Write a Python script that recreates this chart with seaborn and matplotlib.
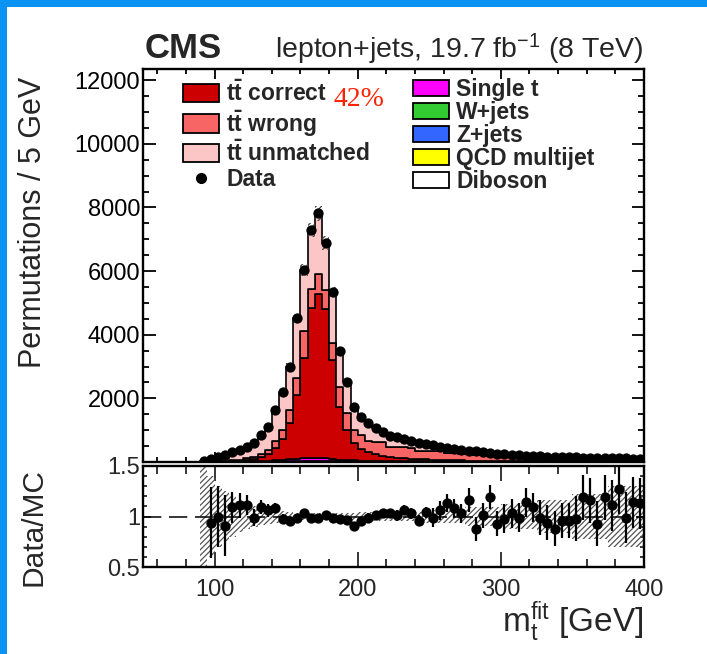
import numpy as np
import pandas as pd
import matplotlib
matplotlib.use("Agg")
import matplotlib.pyplot as plt
import seaborn as sns
from matplotlib.patches import Patch, Rectangle
from matplotlib.lines import Line2D
from matplotlib.ticker import MultipleLocator, FixedLocator

# ---------------- data ----------------
bin_edges = list(range(90, 401, 5))            # 5 GeV bins, 90..400
bin_centers = np.array(bin_edges[:-1]) + 2.5

data_counts = [40, 80, 170, 220, 325, 380, 480, 590, 850, 1110,
               1635, 2210, 3000, 4520, 6040, 7290, 7820, 6880, 5350, 3500,
               2525, 1740, 1425, 1215, 1060, 955, 830, 775, 712, 650,
               600, 560, 520, 480, 445, 410, 380, 355, 330, 300,
               280, 255, 240, 225, 212, 200, 190, 180, 172, 165,
               158, 150, 143, 137, 132, 127, 122, 118, 114, 110,
               107, 104]

tt_correct = [0, 2, 5, 8, 12, 20, 35, 60, 110, 200,
              380, 650, 1150, 2000, 3150, 4700, 5150, 4700, 3100, 1650,
              950, 550, 350, 260, 200, 160, 130, 110, 95, 80,
              70, 60, 52, 45, 40, 35, 31, 28, 25, 22,
              20, 18, 16, 15, 14, 13, 12, 11, 10, 10,
              9, 9, 8, 8, 7, 7, 7, 6, 6, 6,
              5, 5]

tt_wrong = [2, 4, 10, 17, 28, 40, 55, 80, 110, 150,
            220, 300, 400, 550, 850, 600, 625, 600, 550, 635,
            528, 404, 446, 360, 390, 420, 320, 330, 335, 340,
            260, 265, 268, 270, 215, 215, 217, 217, 167, 168,
            168, 168, 134, 133, 132, 131, 108, 107, 106, 104,
            91, 89, 88, 86, 75, 73, 72, 70, 62, 60,
            59, 57]

tt_unmatched = [34, 67, 146, 183, 270, 302, 368, 424, 597, 721,
                985, 1198, 1371, 1867, 1921, 1860, 1915, 1461, 1602, 1141,
                987, 735, 583, 554, 432, 341, 348, 305, 253, 203,
                244, 211, 178, 145, 170, 141, 114, 93, 122, 95,
                78, 55, 77, 64, 53, 45, 59, 51, 45, 41,
                48, 42, 37, 34, 41, 39, 35, 34, 38, 36,
                35, 34]

single_t = [1, 2, 3, 4, 6, 8, 10, 13, 17, 22,
            30, 40, 55, 75, 90, 100, 100, 90, 70, 50,
            38, 30, 26, 23, 21, 19, 17, 16, 15, 14,
            13, 12, 11, 10, 10, 9, 9, 8, 8, 7,
            7, 7, 6, 6, 6, 5, 5, 5, 5, 4,
            4, 4, 4, 4, 3, 3, 3, 3, 3, 3,
            3, 3]

w_jets = [2, 3, 4, 5, 6, 7, 8, 9, 10, 11,
          13, 15, 17, 19, 20, 21, 21, 20, 19, 17,
          15, 14, 13, 12, 11, 10, 10, 9, 9, 8,
          8, 7, 7, 6, 6, 6, 5, 5, 5, 5,
          4, 4, 4, 4, 4, 3, 3, 3, 3, 3,
          3, 3, 3, 2, 2, 2, 2, 2, 2, 2,
          2, 2]

z_jets = [0, 1, 1, 1, 1, 1, 2, 2, 2, 2,
          3, 3, 3, 4, 4, 4, 4, 4, 4, 3,
          3, 3, 3, 2, 2, 2, 2, 2, 2, 2,
          2, 2, 1, 1, 1, 1, 1, 1, 1, 1,
          1, 1, 1, 1, 1, 1, 1, 1, 1, 1,
          1, 1, 1, 1, 1, 1, 1, 1, 1, 1,
          1, 1]

qcd_multijet = [1, 1, 1, 2, 2, 2, 2, 2, 3, 3,
                3, 3, 3, 4, 4, 4, 4, 4, 4, 3,
                3, 3, 3, 3, 3, 2, 2, 2, 2, 2,
                2, 2, 2, 2, 2, 2, 2, 2, 1, 1,
                1, 1, 1, 1, 1, 1, 1, 1, 1, 1,
                1, 1, 1, 1, 1, 1, 1, 1, 1, 1,
                1, 1]

diboson = [0, 0, 0, 0, 0, 0, 0, 0, 1, 1,
           1, 1, 1, 1, 1, 1, 1, 1, 1, 1,
           1, 1, 1, 1, 1, 1, 1, 1, 1, 1,
           1, 1, 1, 1, 1, 1, 1, 1, 1, 1,
           1, 1, 1, 1, 1, 1, 1, 1, 1, 1,
           1, 1, 1, 1, 1, 1, 1, 1, 1, 1,
           1, 1]

ratio_vals = [np.nan, 0.94, 1.00, 0.91, 1.09, 1.11, 1.11, 0.99, 1.09, 1.06,
              1.08, 0.98, 0.96, 0.99, 1.03, 0.99, 0.99, 1.01, 0.99, 0.98,
              0.97, 0.91, 0.96, 0.99, 1.01, 1.03, 1.03, 1.01, 1.06, 1.03,
              0.96, 1.04, 0.99, 1.06, 1.13, 1.08, 1.03, 1.16, 0.88, 1.01,
              1.19, 0.93, 0.98, 1.03, 0.99, 1.14, 1.09, 0.99, 0.94, 0.88,
              0.96, 0.96, 0.98, 1.19, 1.16, 0.93, 1.19, 1.11, 1.27, 0.99,
              1.14, 1.13]

ratio_err = [np.nan, 0.35, 0.30, 0.30, 0.15, 0.12, 0.10, 0.08, 0.07, 0.06,
             0.05, 0.04, 0.03, 0.02, 0.02, 0.02, 0.02, 0.02, 0.02, 0.03,
             0.03, 0.03, 0.04, 0.04, 0.04, 0.04, 0.04, 0.05, 0.05, 0.05,
             0.05, 0.05, 0.09, 0.09, 0.09, 0.09, 0.09, 0.12, 0.12, 0.12,
             0.12, 0.12, 0.14, 0.14, 0.14, 0.14, 0.14, 0.17, 0.17, 0.17,
             0.17, 0.17, 0.22, 0.22, 0.22, 0.22, 0.22, 0.25, 0.25, 0.25,
             0.25, 0.25]

mc_unc_rel = [0.70, 0.40, 0.30, 0.25, 0.20, 0.15, 0.12, 0.10, 0.08, 0.07,
              0.06, 0.05, 0.04, 0.03, 0.03, 0.03, 0.03, 0.03, 0.03, 0.03,
              0.03, 0.03, 0.04, 0.04, 0.04, 0.04, 0.04, 0.04, 0.04, 0.04,
              0.04, 0.06, 0.06, 0.06, 0.06, 0.06, 0.06, 0.09, 0.09, 0.09,
              0.09, 0.09, 0.12, 0.12, 0.12, 0.12, 0.12, 0.16, 0.16, 0.16,
              0.16, 0.16, 0.22, 0.22, 0.22, 0.22, 0.22, 0.30, 0.30, 0.30,
              0.30, 0.30]

components = ["tt unmatched", "tt wrong", "tt correct", "Single t",
              "W+jets", "Z+jets", "QCD multijet", "Diboson"]
component_values = [tt_unmatched, tt_wrong, tt_correct, single_t,
                    w_jets, z_jets, qcd_multijet, diboson]
colors = {"tt correct": "#CC0000", "tt wrong": "#F86565", "tt unmatched": "#FCC6C6",
          "Single t": "#FF00FF", "W+jets": "#33CC33", "Z+jets": "#3366FF",
          "QCD multijet": "#FFFF00", "Diboson": "#FFFFFF"}

# ---------------- style ----------------
sns.set_style("ticks")
plt.rcParams["font.family"] = ["Liberation Sans", "DejaVu Sans"]
plt.rcParams["mathtext.fontset"] = "custom"
plt.rcParams["mathtext.rm"] = "Liberation Sans"
plt.rcParams["mathtext.it"] = "Liberation Sans:italic"
plt.rcParams["mathtext.bf"] = "Liberation Sans:bold"
plt.rcParams["hatch.linewidth"] = 0.9

W, H = 707, 654
fig = plt.figure(figsize=(W / 100, H / 100), dpi=100, facecolor="#0A93F2")
fig.patches.append(Rectangle((7 / W, 0), 1 - 7 / W, (H - 7) / H,
                             transform=fig.transFigure, facecolor="white",
                             edgecolor="none", zorder=-1))

ax = fig.add_axes([143 / W, 1 - 462 / H, 501 / W, 393 / H])
ax2 = fig.add_axes([143 / W, 1 - 567 / H, 501 / W, 101 / H])

# ---------------- top panel: stacked histogram ----------------
df = pd.DataFrame({
    "mass": np.tile(bin_centers, len(components)),
    "count": np.concatenate([np.asarray(v, float) for v in component_values]),
    "component": np.repeat(components, len(bin_centers)),
})
sns.histplot(data=df, x="mass", weights="count", hue="component",
             hue_order=components, bins=bin_edges, multiple="stack",
             element="step", fill=True, palette=colors, alpha=1,
             edgecolor="black", linewidth=1.2, legend=False, ax=ax)

mc_total = np.sum([np.asarray(v, float) for v in component_values], axis=0)
unc = np.asarray(mc_unc_rel)
lo = np.append(mc_total * (1 - unc), mc_total[-1] * (1 - unc[-1]))
hi = np.append(mc_total * (1 + unc), mc_total[-1] * (1 + unc[-1]))
ax.fill_between(bin_edges, lo, hi, step="post", facecolor="none",
                edgecolor="#444444", hatch="//////", linewidth=0, zorder=3)

data_arr = np.asarray(data_counts, float)
ax.errorbar(bin_centers, data_arr, yerr=np.sqrt(data_arr), fmt="none",
            ecolor="black", elinewidth=1.4, zorder=4)
sns.scatterplot(x=bin_centers, y=data_arr, color="black", s=55,
                linewidth=0, ax=ax, zorder=5, legend=False)

ax.set_xlim(50, 400)
ax.set_ylim(0, 12350)
ax.yaxis.set_major_locator(FixedLocator([2000, 4000, 6000, 8000, 10000, 12000]))
ax.yaxis.set_minor_locator(MultipleLocator(500))
ax.xaxis.set_major_locator(MultipleLocator(100))
ax.xaxis.set_minor_locator(MultipleLocator(20))
ax.set_xlabel("")
ax.set_ylabel("")
ax.tick_params(axis="both", which="both", direction="in", top=True, right=True,
               labelbottom=False, colors="black")
ax.tick_params(axis="x", which="major", length=7, width=1.3)
ax.tick_params(axis="x", which="minor", length=3.5, width=1.3)
ax.tick_params(axis="y", which="major", length=9, width=1.3, labelsize=17, pad=2)
ax.tick_params(axis="y", which="minor", length=4.5, width=1.3)
for s in ax.spines.values():
    s.set_linewidth(1.7)
    s.set_color("black")

# ---------------- ratio panel ----------------
rlo = np.append(1 - unc, 1 - unc[-1])
rhi = np.append(1 + unc, 1 + unc[-1])
ax2.fill_between(bin_edges, rlo, rhi, step="post", facecolor="none",
                 edgecolor="#555555", hatch="//////", linewidth=0, zorder=1)
ax2.axhline(1.0, color="black", linewidth=1.1, linestyle=(0, (12, 5)), zorder=2)
ratio_arr = np.asarray(ratio_vals, float)
ax2.errorbar(bin_centers, ratio_arr, yerr=np.asarray(ratio_err, float), fmt="none",
             ecolor="black", elinewidth=1.6, zorder=3)
sns.scatterplot(x=bin_centers, y=ratio_arr, color="black", s=55, linewidth=0,
                ax=ax2, zorder=4, legend=False)
ax2.set_xlim(50, 400)
ax2.set_ylim(0.5, 1.5)
ax2.yaxis.set_major_locator(FixedLocator([0.5, 1.0, 1.5]))
ax2.set_yticklabels(["0.5", "1", "1.5"])
ax2.yaxis.set_minor_locator(MultipleLocator(0.1))
ax2.xaxis.set_major_locator(MultipleLocator(100))
ax2.xaxis.set_minor_locator(MultipleLocator(20))
ax2.set_xlabel("")
ax2.set_ylabel("")
ax2.tick_params(axis="both", which="both", direction="in", top=True, right=True)
ax2.tick_params(axis="x", which="major", length=11, width=1.3, labelsize=17, pad=9)
ax2.tick_params(axis="x", which="minor", length=5.5, width=1.3)
ax2.tick_params(axis="y", which="major", length=6, width=1.3, labelsize=17, pad=2)
ax2.tick_params(axis="y", which="minor", length=3, width=1.3)
for s in ax2.spines.values():
    s.set_linewidth(1.7)
    s.set_color("black")

# ---------------- legends ----------------
tt = r"$\mathbf{t\bar{t}}$"
left_handles = [Patch(facecolor=colors["tt correct"], edgecolor="black", linewidth=1.3),
                Patch(facecolor=colors["tt wrong"], edgecolor="black", linewidth=1.3),
                Patch(facecolor=colors["tt unmatched"], edgecolor="black", linewidth=1.3),
                Line2D([], [], marker="o", color="black", linestyle="none", markersize=7)]
left_labels = [tt + " correct", tt + " wrong", tt + " unmatched", "Data"]
leg1 = ax.legend(left_handles, left_labels, loc="upper left",
                 bbox_to_anchor=((183 - 143) / 501, (462 - 81) / 393),
                 frameon=False, borderpad=0, borderaxespad=0,
                 handlelength=1.55, handleheight=0.85, handletextpad=0.33,
                 labelspacing=0.1, prop={"weight": "bold", "size": 16.5})
ax.add_artist(leg1)

right_names = ["Single t", "W+jets", "Z+jets", "QCD multijet", "Diboson"]
right_handles = [Patch(facecolor=colors[n], edgecolor="black", linewidth=1.3)
                 for n in right_names]
ax.legend(right_handles, right_names, loc="upper left",
          bbox_to_anchor=((413 - 143) / 501, (462 - 78) / 393),
          frameon=False, borderpad=0, borderaxespad=0,
          handlelength=1.55, handleheight=0.7, handletextpad=0.33,
          labelspacing=0.0, prop={"weight": "bold", "size": 16.5})

# ---------------- texts ----------------
fig.text(333 / W, 1 - 106 / H, "42%", fontsize=20, color="#FF2200",
         family=["Liberation Serif", "DejaVu Serif"], va="baseline", ha="left")
fig.text(145 / W, 1 - 58 / H, "CMS", fontsize=25, fontweight="bold",
         va="baseline", ha="left")
fig.text(644 / W, 1 - 58 / H, r"lepton+jets, 19.7 fb$^{-1}$ (8 TeV)",
         fontsize=20.5, va="baseline", ha="right")
fig.text(33 / W, 1 - 222 / H, "Permutations / 5 GeV", fontsize=22,
         rotation=90, va="center", ha="center")
fig.text(33 / W, 1 - 527 / H, "Data/MC", fontsize=21.5,
         rotation=90, va="center", ha="center")
fig.text(644 / W, 1 - 632 / H, r"m$_{\rm t}^{\rm fit}$ [GeV]", fontsize=24,
         va="baseline", ha="right")

fig.savefig("out.png", dpi=100, facecolor=fig.get_facecolor())
